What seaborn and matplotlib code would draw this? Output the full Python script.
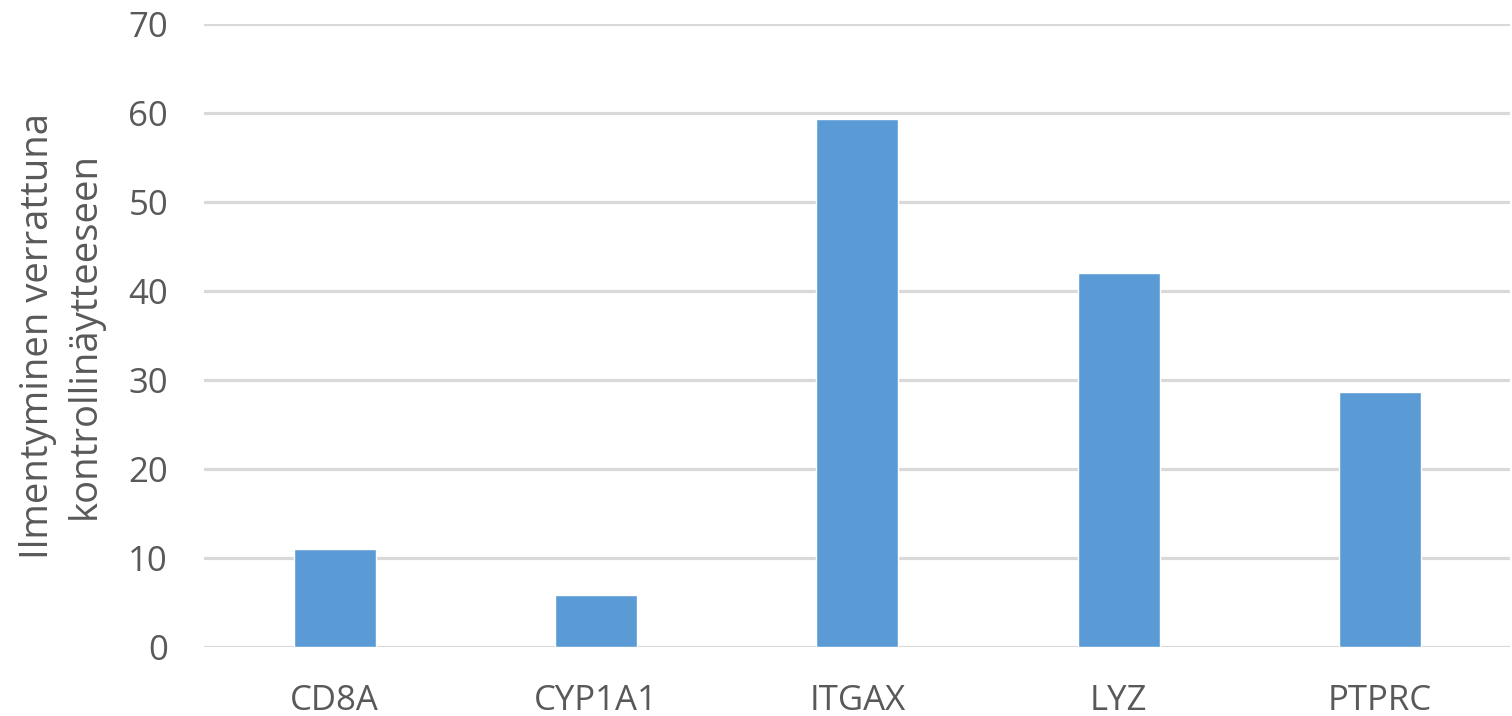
import pandas as pd
import matplotlib.pyplot as plt
import seaborn as sns

# Data
geenit = ['CD8A', 'CYP1A1', 'ITGAX', 'LYZ', 'PTPRC']
ilmentyminen = [11.0, 5.8, 59.3, 42.0, 28.7]
y_ticks = [0, 10, 20, 30, 40, 50, 60, 70]

df = pd.DataFrame({'geeni': geenit, 'arvo': ilmentyminen})

sns.set_theme(style='white')
plt.rcParams['font.family'] = ['Open Sans', 'DejaVu Sans']

fig = plt.figure(figsize=(15.12, 7.16), dpi=100)
ax = fig.add_axes([0.135, 0.0964, 0.864, 0.87])

sns.barplot(x='geeni', y='arvo', data=df, ax=ax, color='#5b9bd5',
            width=0.314, saturation=1, zorder=3)

ax.set_ylim(0, 70)
ax.set_yticks(y_ticks)
ax.set_xlim(-0.5, len(geenit) - 0.5)
ax.yaxis.grid(True, color='#d9d9d9', linewidth=2.3, zorder=0)
ax.set_axisbelow(True)
for s in ax.spines.values():
    s.set_visible(False)

ax.tick_params(axis='both', length=0, labelsize=25, labelcolor='#595959')
ax.tick_params(axis='y', pad=26)
ax.tick_params(axis='x', pad=27)
ax.set_xlabel('')
ax.set_ylabel('Ilmentyminen verrattuna\nkontrollinäytteeseen', fontsize=27.5,
              color='#595959', linespacing=1.3)
ax.yaxis.set_label_coords(-0.077, 0.50)

fig.savefig('out.png', dpi=100)
